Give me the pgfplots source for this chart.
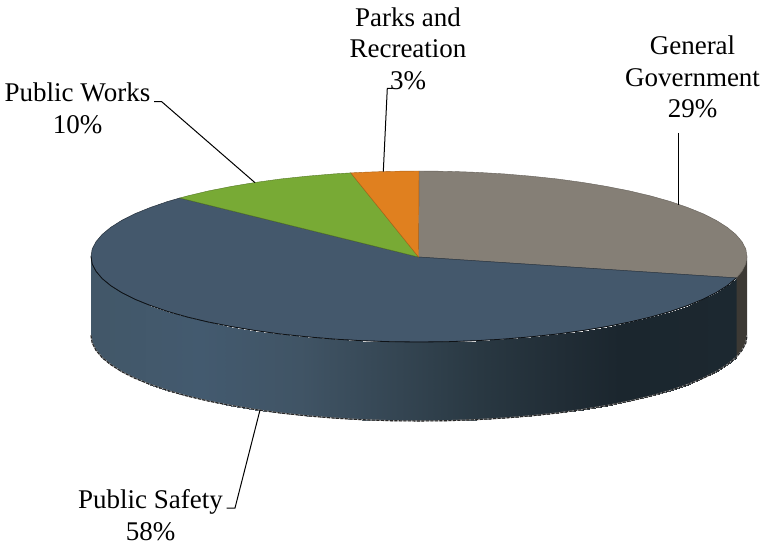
\documentclass[border=0pt]{standalone}
\usepackage{pgfplots}
\usepackage{pgfplotstable}
\usepackage{fontspec}
\setmainfont{Liberation Serif}
\pgfplotsset{compat=1.18}

\definecolor{safety}{RGB}{68,88,108}
\definecolor{gengov}{RGB}{133,127,118}
\definecolor{works}{RGB}{120,170,53}
\definecolor{parks}{RGB}{224,128,31}

% bottom rim of the visible side, left to right
\pgfplotstableread{
x y
91 208.5
92.2 201
96 193.7
102.2 186.4
110.8 179.3
121.7 172.4
134.9 165.75
150.3 159.5
167.7 153.5
187.1 148
208.2 143
230.9 138.5
255 134.5
280.4 131
306.8 128.2
334.1 125.9
362 124.3
390.4 123.3
419 123
447.6 123.3
476 124.3
503.9 125.9
531.2 128.2
557.6 131
583 134.5
607.1 138.5
629.8 143
650.9 148
670.3 153.5
687.7 159.5
703.1 165.75
716.3 172.4
727.2 179.3
736.5 187.1
742 193.7
745.8 201
747 208.5
}\rim

\begin{document}
\begin{tikzpicture}
\begin{axis}[
  scale only axis,
  width=763pt, height=544pt,
  xmin=0, xmax=763, ymin=0, ymax=544,
  axis lines=none,
  clip=false,
  colormap={sidemap}{
    rgb255(91)=(66,87,104)
    rgb255(200)=(67,90,111)
    rgb255(300)=(64,84,101)
    rgb255(400)=(52,69,82)
    rgb255(480)=(41,56,66)
    rgb255(560)=(33,45,54)
    rgb255(620)=(27,38,46)
    rgb255(737)=(28,40,48)
  },
  point meta min=91, point meta max=737,
]

% keep the page the size of the axis
\path[use as bounding box] (axis cs:0,0) rectangle (axis cs:763,544);

% side of Public Safety, two rows: bottom edge then top edge
\addplot[surf, shader=interp, mesh/rows=2, point meta=x] table {
x y
91 208.5
92.2 201
96 193.7
102.2 186.4
110.8 179.3
121.7 172.4
134.9 165.75
150.3 159.5
167.7 153.5
187.1 148
208.2 143
230.9 138.5
255 134.5
280.4 131
306.8 128.2
334.1 125.9
362 124.3
390.4 123.3
419 123
447.6 123.3
476 124.3
503.9 125.9
531.2 128.2
557.6 131
583 134.5
607.1 138.5
629.8 143
650.9 148
670.3 153.5
687.7 159.5
703.1 165.75
716.3 172.4
727.2 179.3
736.5 187.1
91 287.5
92.2 280
96 272.7
102.2 265.4
110.8 258.3
121.7 251.4
134.9 244.75
150.3 238.5
167.7 232.5
187.1 227
208.2 222
230.9 217.5
255 213.5
280.4 210
306.8 207.2
334.1 204.9
362 203.3
390.4 202.3
419 202
447.6 202.3
476 203.3
503.9 204.9
531.2 207.2
557.6 210
583 213.5
607.1 217.5
629.8 222
650.9 227
670.3 232.5
687.7 238.5
703.1 244.75
716.3 251.4
727.2 258.3
736.5 266.1
};

% side of General Government
\addplot[fill={rgb,255:red,60;green,57;blue,52}, draw=none] coordinates {
(736.5,187.1) (742,193.7) (745.8,201) (747,208.5)
(747,287.5) (745.8,280) (742,272.7) (736.5,266.1)
} -- cycle;

% rim
\addplot[black!35, line width=1.1pt] table {\rim};
\addplot[black!85, line width=1.1pt, dash pattern=on 3pt off 1.5pt] table {\rim};

% top: General Government
\addplot[fill=gengov, draw=gengov!75!black, line width=0.4pt] coordinates {
(418.5,287) (419,373) (447.6,372.7) (476,371.7) (503.9,370.1) (531.2,367.8)
(557.6,365) (583,361.5) (607.1,357.5) (629.8,353) (650.9,348) (670.3,342.5)
(687.7,336.5) (703.1,330.25) (716.3,323.6) (727.2,316.7) (735.8,309.6)
(742,302.3) (745.8,295) (747,287.5) (745.8,280) (742,272.7) (736.5,266.1)
} -- cycle;

% top: Public Safety
\addplot[fill=safety, draw=safety!55!black, line width=0.5pt] coordinates {
(418.5,287) (736.5,266.1) (727.2,258.3) (716.3,251.4) (703.1,244.75)
(687.7,238.5) (670.3,232.5) (650.9,227) (629.8,222) (607.1,217.5) (583,213.5)
(557.6,210) (531.2,207.2) (503.9,204.9) (476,203.3) (447.6,202.3) (419,202)
(390.4,202.3) (362,203.3) (334.1,204.9) (306.8,207.2) (280.4,210) (255,213.5)
(230.9,217.5) (208.2,222) (187.1,227) (167.7,232.5) (150.3,238.5) (134.9,244.75)
(121.7,251.4) (110.8,258.3) (102.2,265.4) (96,272.7) (92.2,280) (91,287.5)
(92.2,295) (96,302.3) (102.2,309.6) (110.8,316.7) (121.7,323.6) (134.9,330.25)
(150.3,336.5) (167.7,342.5) (179.9,346)
} -- cycle;

% dark line where the top meets the front side
\addplot[black!80!safety, line width=0.8pt] coordinates {
(736.5,266.1) (727.2,258.3) (716.3,251.4) (703.1,244.75)
(687.7,238.5) (670.3,232.5) (650.9,227) (629.8,222) (607.1,217.5) (583,213.5)
(557.6,210) (531.2,207.2) (503.9,204.9) (476,203.3) (447.6,202.3) (419,202)
(390.4,202.3) (362,203.3) (334.1,204.9) (306.8,207.2) (280.4,210) (255,213.5)
(230.9,217.5) (208.2,222) (187.1,227) (167.7,232.5) (150.3,238.5) (134.9,244.75)
(121.7,251.4) (110.8,258.3) (102.2,265.4) (96,272.7) (92.2,280) (91,287.5)
};

% top: Public Works
\addplot[fill=works, draw=works!70!black, line width=0.4pt] coordinates {
(418.5,287) (179.9,346) (187.1,348) (208.2,353) (230.9,357.5) (255,361.5)
(280.4,365) (306.8,367.8) (334.1,370.1) (350.8,371.1)
} -- cycle;

% top: Parks and Recreation
\addplot[fill=parks, draw=parks!75!black, line width=0.4pt] coordinates {
(418.5,287) (350.8,371.1) (362,371.7) (390.4,372.7) (419,373)
} -- cycle;

% leader lines
\addplot[black, line width=1pt] coordinates {(154,442.3) (161.7,442.3) (255,361.3)};
\addplot[black, line width=1pt] coordinates {(392,455.7) (387.3,455.7) (383.3,372.3)};
\addplot[black, line width=1pt] coordinates {(678,411) (678,339)};
\addplot[black, line width=1pt] coordinates {(260,134) (235,36) (226.7,36)};

% labels
\tikzset{lab/.style={align=center, inner sep=0pt, font=\fontsize{27}{31.5}\selectfont}}
\node[lab] at (axis cs:408,495.5) {Parks and\\Recreation\\3\%};
\node[lab] at (axis cs:692.5,467) {General\\Government\\29\%};
\node[lab] at (axis cs:77.5,435.5) {Public Works\\10\%};
\node[lab] at (axis cs:150.5,29) {Public Safety\\58\%};

\end{axis}
\end{tikzpicture}
\end{document}
